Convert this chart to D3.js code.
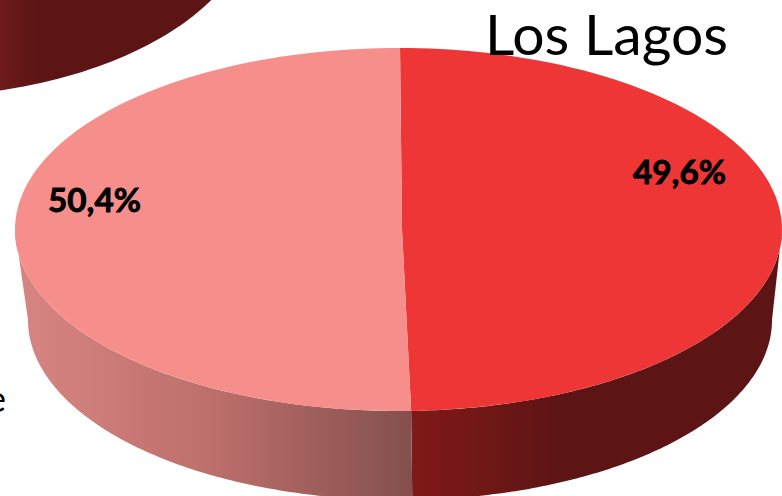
<!DOCTYPE html>
<html><head><meta charset="utf-8">
<script src="https://cdn.jsdelivr.net/npm/d3@7"></script>
<style>html,body{margin:0;padding:0;background:#fff;overflow:hidden}svg{display:block}</style>
</head><body><svg id="c" width="782" height="496"></svg>
<script>
const categories = ["Sí", "No"];
const seriesValues = [49.6, 50.4];
const valueLabels = ["49,6%", "50,4%"];
const title = "Los Lagos";
const topColors = ["#ee3636", "#f68f8c"];

const W = 782, H = 496;
const svg = d3.select("#c");
const defs = svg.append("defs");
function grad(id, x1, x2, stops){
  const g = defs.append("linearGradient").attr("id", id).attr("gradientUnits","userSpaceOnUse")
    .attr("x1", x1).attr("x2", x2).attr("y1", 0).attr("y2", 0);
  stops.forEach(s => g.append("stop").attr("offset", s[0]).attr("stop-color", s[1]));
}
grad("sideRed", 411, 772, [[0,"#7f1a18"],[0.14,"#751816"],[0.42,"#5c1414"],[1,"#5c1414"]]);
grad("sidePink", 28, 411, [[0,"#d68482"],[0.5,"#bb6e6a"],[1,"#84504d"]]);
grad("sideNeighbour", 0, 40, [[0,"#6e1a1a"],[1,"#5c1414"]]);

// elliptical scales for rim of top face, bottom face and the neighbouring pie
const xTop = d3.scaleLinear([-1,1],[15,782]),  yTop = d3.scaleLinear([-1,1],[48,411]);
const xBot = d3.scaleLinear([-1,1],[28,772]),  yBot = d3.scaleLinear([-1,1],[140,500]);
const xNb  = d3.scaleLinear([-1,1],[-434,254]), yNb  = d3.scaleLinear([-1,1],[-278,97]);
const apex = [402, 229];

// the slight perspective of the 3D pie bends angles near the vertical axis
const warp = d3.scaleLinear([0, Math.PI, 2*Math.PI], [0.004, Math.PI-0.008, 2*Math.PI+0.004]);
const pie = d3.pie().sort(null).value(d => d);
const arcs = pie(seriesValues);
const line = d3.line();
const rim = (a0, a1, xs, ys) => d3.range(0, 121).map(i => {
  const a = a0 + (a1 - a0) * i / 120;
  return [xs(Math.sin(a)), ys(-Math.cos(a))];
});

// neighbouring pie's edge, cropped at the top-left corner
svg.append("path")
  .attr("d", line(rim(Math.PI*0.25, Math.PI*1.25, xNb, yNb)) + "Z")
  .attr("fill", "url(#sideNeighbour)");

// side walls
const q = Math.PI/2, tq = Math.PI*1.5;
const boundary = warp(arcs[0].endAngle);
svg.append("path")
  .attr("d", line(rim(q, boundary, xTop, yTop).concat(rim(boundary, q, xBot, yBot))) + "Z")
  .attr("fill", "url(#sideRed)");
svg.append("path")
  .attr("d", line(rim(boundary, tq, xTop, yTop).concat(rim(tq, boundary, xBot, yBot))) + "Z")
  .attr("fill", "url(#sidePink)");

// top face
svg.selectAll("path.top").data(arcs).join("path").attr("class","top")
  .attr("d", d => line([apex].concat(rim(warp(d.startAngle), warp(d.endAngle), xTop, yTop))) + "Z")
  .attr("fill", (d,i) => topColors[i]);

// labels
const labelPos = [[679.5, 184], [94.5, 212]];
svg.selectAll("text.v").data(valueLabels).join("text").attr("class","v")
  .attr("x", (d,i) => labelPos[i][0]).attr("y", (d,i) => labelPos[i][1])
  .attr("text-anchor","middle").attr("font-family","Lato, 'Open Sans', sans-serif")
  .attr("font-weight",700).attr("font-size",32).attr("fill","#000")
  .attr("stroke","#000").attr("stroke-width",0.8)
  .attr("textLength",93).attr("lengthAdjust","spacingAndGlyphs").text(d => d);

svg.append("text").attr("x",485).attr("y",55)
  .attr("font-family","Lato, 'Open Sans', sans-serif").attr("font-size",57).attr("fill","#000")
  .attr("textLength",243).attr("lengthAdjust","spacingAndGlyphs").text(title);

// clipped fragment of neighbouring text
svg.append("text").attr("x",-13).attr("y",412)
  .attr("font-family","Lato, 'Open Sans', sans-serif").attr("font-size",36).attr("fill","#000").text("e");
</script></body></html>
